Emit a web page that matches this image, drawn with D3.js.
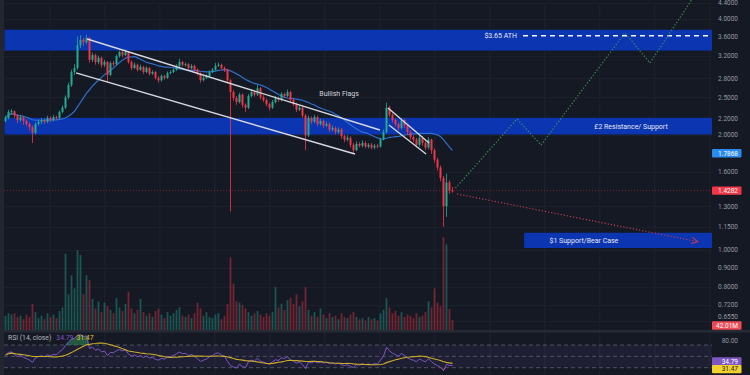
<!DOCTYPE html>
<html>
<head>
<meta charset="utf-8">
<script src="https://cdn.jsdelivr.net/npm/d3@7"></script>
<style>
  body { margin: 0; background: #151924; }
  svg { display: block; font-family: Roboto, "Noto Sans", sans-serif; }
</style>
</head>
<body>
<div id="chart"></div>
<script>
// daily candles, open = previous close
const firstOpen = 2.17
const closes = [
  2.21,2.29,2.30,2.24,2.18,2.22,2.17,2.13,2.09,2.02,
  2.13,2.16,2.18,2.16,2.21,2.18,2.22,2.21,2.29,2.35,
  2.50,2.69,2.91,2.98,3.42,3.53,3.48,3.57,3.13,3.22,
  3.09,3.17,3.04,3.09,2.86,3.07,3.05,3.20,3.28,3.22,
  3.28,3.09,2.98,3.04,2.95,3.00,2.91,2.98,2.88,2.91,
  2.81,2.77,2.84,2.81,2.89,2.91,2.95,3.02,3.09,3.04,
  3.05,2.98,3.02,2.95,2.88,2.77,2.81,2.84,2.91,2.95,
  3.02,3.04,2.98,2.95,2.77,2.58,2.49,2.43,2.54,2.39,
  2.35,2.52,2.58,2.54,2.64,2.50,2.46,2.40,2.35,2.43,
  2.49,2.46,2.55,2.52,2.58,2.46,2.40,2.32,2.35,2.24,
  1.99,2.21,2.16,2.22,2.13,2.17,2.11,2.13,2.06,2.08,
  2.03,2.06,1.98,1.94,1.96,1.88,1.82,1.89,1.87,1.90,
  1.86,1.88,1.85,1.87,1.86,1.94,2.03,2.35,2.25,2.18,
  2.13,2.08,2.18,2.11,2.03,1.97,1.94,1.88,1.96,1.90,
  1.85,1.94,1.82,1.72,1.64,1.54,1.30,1.50,1.43,1.4282
]
const highs = [
  2.24,2.32,2.33,2.31,2.26,2.25,2.23,2.19,2.15,2.11,
  2.15,2.19,2.21,2.20,2.24,2.23,2.25,2.24,2.31,2.38,
  2.53,2.73,2.95,3.05,3.60,3.63,3.58,3.64,3.59,3.27,
  3.25,3.21,3.19,3.13,3.11,3.10,3.11,3.23,3.31,3.32,
  3.33,3.30,3.12,3.08,3.06,3.04,3.02,3.01,3.00,2.94,
  2.93,2.84,2.87,2.86,2.92,2.94,2.98,3.05,3.15,3.11,
  3.08,3.07,3.05,3.04,2.97,2.90,2.84,2.87,2.94,2.98,
  3.07,3.08,3.06,3.01,2.97,2.79,2.61,2.52,2.57,2.56,
  2.41,2.55,2.62,2.60,2.69,2.66,2.53,2.48,2.42,2.46,
  2.52,2.51,2.58,2.57,2.62,2.60,2.48,2.42,2.38,2.37,
  2.26,2.24,2.23,2.25,2.24,2.20,2.19,2.16,2.15,2.11,
  2.10,2.09,2.08,2.00,1.99,1.98,1.90,1.92,1.91,1.93,
  1.92,1.90,1.90,1.89,1.89,1.96,2.06,2.42,2.38,2.27,
  2.20,2.15,2.21,2.20,2.13,2.05,1.99,1.96,1.99,1.98,
  1.92,1.97,1.95,1.84,1.74,1.66,1.56,1.58,1.52,1.46
]
const lows = [
  2.15,2.19,2.25,2.21,2.14,2.16,2.12,2.10,2.05,1.90,
  2.00,2.11,2.13,2.13,2.14,2.15,2.16,2.18,2.19,2.27,
  2.33,2.47,2.66,2.86,2.95,3.36,3.40,3.44,3.08,3.09,
  3.04,3.05,2.99,3.00,2.74,2.84,3.01,3.03,3.17,3.18,
  3.20,3.06,2.94,2.96,2.92,2.93,2.88,2.89,2.85,2.86,
  2.78,2.73,2.75,2.78,2.79,2.87,2.89,2.93,3.00,3.01,
  3.01,2.95,2.96,2.92,2.85,2.73,2.75,2.79,2.82,2.89,
  2.93,3.00,2.95,2.91,2.74,1.26,2.45,2.39,2.41,2.35,
  2.29,2.33,2.50,2.51,2.52,2.47,2.43,2.37,2.31,2.33,
  2.41,2.43,2.44,2.49,2.50,2.43,2.37,2.29,2.30,2.21,
  1.82,1.97,2.13,2.14,2.10,2.11,2.08,2.09,2.03,2.04,
  2.00,2.01,1.95,1.91,1.92,1.85,1.79,1.81,1.85,1.85,
  1.84,1.84,1.83,1.83,1.84,1.85,1.93,2.01,2.22,2.15,
  2.10,2.05,2.06,2.08,2.00,1.94,1.91,1.85,1.86,1.87,
  1.82,1.83,1.78,1.69,1.61,1.51,1.15,1.22,1.40,1.41
]
// volume in millions
const volumes = [
  60,70,65,70,55,60,45,65,55,110,
  75,50,60,45,70,55,65,50,80,95,
  320,150,230,175,335,315,150,230,210,130,
  90,120,75,115,100,85,70,135,95,80,
  110,160,90,70,85,130,75,60,70,55,
  80,90,65,50,75,60,70,85,95,60,
  55,65,50,70,115,90,60,75,55,50,
  65,70,45,60,110,305,195,120,115,105,
  90,75,60,70,80,65,55,70,60,75,
  180,95,110,85,125,135,110,150,100,120,
  180,85,60,75,55,90,65,50,70,55,
  60,45,70,55,50,65,75,55,45,50,
  40,55,45,50,40,70,85,135,95,70,
  80,60,75,55,65,60,50,70,55,60,
  75,120,95,175,115,100,390,360,88,42.01
]

const priceTicks = [4.4, 4.0, 3.6, 3.2, 2.8, 2.5, 2.2, 2.0, 1.6, 1.3, 1.15, 1.0, 0.9, 0.8, 0.72, 0.655]
const rsiTicks = [80]
const rsiLevels = [70, 50, 30]

// zones: [from bar, to bar (null = right edge), low, high]
const zones = [
  [0, null, 3.31, 3.75],
  [0, null, 2.0, 2.21],
  [173.2, null, 1.012, 1.109]
]
// trend lines [bar, price]
const channelLines = [
  [[27.2, 3.547], [124.8, 2.055]],
  [[23.5, 2.894], [116.5, 1.779]],
  [[127.5, 2.345], [141.2, 1.90]],
  [[127.8, 2.118], [140.2, 1.779]]
]
const bullPath = [[150, 1.45], [170.5, 2.195], [178.5, 1.878], [206.5, 3.68], [214.8, 3.072], [229, 4.52]]
const bearPath = [[150.5, 1.40], [230.8, 1.051]]
const athLine = { from: 172.5, price: 3.62 }
const notes = [
  { text: "$3.65 ATH", bar: 170.5, price: 3.62, anchor: "end", color: "#e6e8ee" },
  { text: "Bullish Flags", bar: 111.2, price: 2.56, anchor: "middle", color: "#d1d4dc" },
  { text: "£2 Resistance/ Support", bar: 208.5, price: 2.10, anchor: "middle", color: "#e6e8ee" },
  { text: "$1 Support/Bear Case", bar: 192.8, price: 1.058, anchor: "middle", color: "#e6e8ee" }
]
const maValue = 1.7868
const lastPrice = 1.4282
const lastVolume = "42.01M"
const rsiValue = 34.79
const rsiMaValue = 31.47

const W = 750, H = 375
const paneW = 712
const priceBottom = 330
const rsiTop = 333

const up = "#22ab94", down = "#f23645"

const svg = d3.select("#chart").append("svg")
    .attr("width", W)
    .attr("height", H)

const defs = svg.append("defs")
defs.append("clipPath").attr("id", "pricePane")
  .append("rect").attr("x", 0).attr("y", 0).attr("width", paneW).attr("height", priceBottom)
defs.append("clipPath").attr("id", "rsiPane")
  .append("rect").attr("x", 0).attr("y", rsiTop).attr("width", paneW).attr("height", H - rsiTop)
defs.append("marker")
    .attr("id", "arrow").attr("viewBox", "0 0 8 8")
    .attr("refX", 7).attr("refY", 4)
    .attr("markerWidth", 7).attr("markerHeight", 7)
    .attr("orient", "auto")
  .append("path")
    .attr("d", "M1,1 L7,4 L1,7")
    .attr("fill", "none").attr("stroke", "#c23a52").attr("stroke-width", 1)

svg.append("rect").attr("width", W).attr("height", H).attr("fill", "#151924")
svg.append("rect").attr("width", 4).attr("height", H).attr("fill", "#23262f")

// scales
const x = d3.scaleLinear().domain([0, closes.length - 1]).range([5.5, 452.5])
const y = d3.scaleLog().domain([1, 4]).range([250, 19])
const yVol = d3.scaleLinear().domain([0, 420]).range([priceBottom, priceBottom - 100])
const yRsi = d3.scaleLinear().domain([0, 100]).range([384.7, 328])

const barRight = x.invert(paneW)

// grid
const gridBars = d3.range(14.8, barRight, 18.33)
svg.append("g")
  .selectAll("line")
  .data(gridBars)
  .join("line")
    .attr("x1", d => x(d)).attr("x2", d => x(d))
    .attr("y1", 4).attr("y2", H)
    .attr("stroke", "#1f2330").attr("stroke-width", 1)

svg.append("g")
  .selectAll("line")
  .data(priceTicks)
  .join("line")
    .attr("x1", 4).attr("x2", paneW)
    .attr("y1", d => Math.round(y(d)) + 0.5).attr("y2", d => Math.round(y(d)) + 0.5)
    .attr("stroke", "#1c202b").attr("stroke-width", 1)

const price = svg.append("g").attr("clip-path", "url(#pricePane)")

// zones
price.append("g")
  .selectAll("rect")
  .data(zones)
  .join("rect")
    .attr("x", d => Math.max(4, x(d[0]) - 1))
    .attr("width", d => (d[1] == null ? paneW : x(d[1])) - Math.max(4, x(d[0]) - 1))
    .attr("y", d => y(d[3]))
    .attr("height", d => y(d[2]) - y(d[3]))
    .attr("fill", "#0c35b2")

// candles data
const candles = closes.map((c, i) => ({
  i,
  o: i ? closes[i - 1] : firstOpen,
  c,
  h: highs[i],
  l: lows[i],
  v: volumes[i]
}))

// volume overlay
price.append("g")
  .selectAll("rect")
  .data(candles)
  .join("rect")
    .attr("x", d => x(d.i) - 0.9)
    .attr("width", 1.8)
    .attr("y", d => yVol(d.v))
    .attr("height", d => priceBottom - yVol(d.v))
    .attr("fill", d => d.c >= d.o ? up : down)
    .attr("opacity", 0.42)

// moving average 20
const ma = closes.map((_, i) => d3.mean(closes.slice(Math.max(0, i - 19), i + 1)))
price.append("path")
  .datum(ma)
  .attr("fill", "none")
  .attr("stroke", "#2e6fcf")
  .attr("stroke-width", 1.2)
  .attr("d", d3.line().x((d, i) => x(i)).y(d => y(d)))

// candles
const cg = price.append("g")
cg.selectAll("line")
  .data(candles)
  .join("line")
    .attr("x1", d => x(d.i)).attr("x2", d => x(d.i))
    .attr("y1", d => y(d.h)).attr("y2", d => y(d.l))
    .attr("stroke", d => d.c >= d.o ? up : down)
    .attr("stroke-width", 0.8)
cg.selectAll("rect")
  .data(candles)
  .join("rect")
    .attr("x", d => x(d.i) - 1)
    .attr("width", 2)
    .attr("y", d => y(Math.max(d.o, d.c)))
    .attr("height", d => Math.max(1, Math.abs(y(d.o) - y(d.c))))
    .attr("fill", d => d.c >= d.o ? up : down)

// channels
price.append("g")
  .selectAll("line")
  .data(channelLines)
  .join("line")
    .attr("x1", d => x(d[0][0])).attr("y1", d => y(d[0][1]))
    .attr("x2", d => x(d[1][0])).attr("y2", d => y(d[1][1]))
    .attr("stroke", "#d6d8de").attr("stroke-width", 1.4)

// current price line
price.append("line")
  .attr("x1", 4).attr("x2", paneW)
  .attr("y1", y(lastPrice)).attr("y2", y(lastPrice))
  .attr("stroke", down).attr("stroke-opacity", 0.45)
  .attr("stroke-dasharray", "1,2")

// ATH line
price.append("line")
  .attr("x1", x(athLine.from)).attr("x2", paneW)
  .attr("y1", y(athLine.price)).attr("y2", y(athLine.price))
  .attr("stroke", "#f2f3f5").attr("stroke-width", 1.5)
  .attr("stroke-dasharray", "5,4")

// projections
const pline = d3.line().x(d => x(d[0])).y(d => y(d[1]))
price.append("path")
  .datum(bullPath)
  .attr("d", pline)
  .attr("fill", "none")
  .attr("stroke", "#3a9a55")
  .attr("stroke-width", 1.2)
  .attr("stroke-dasharray", "1.2,2")
price.append("path")
  .datum(bearPath)
  .attr("d", pline)
  .attr("fill", "none")
  .attr("stroke", "#c23a52")
  .attr("stroke-width", 1.2)
  .attr("stroke-dasharray", "1.2,2")
  .attr("marker-end", "url(#arrow)")

// notes
price.append("g")
  .selectAll("text")
  .data(notes)
  .join("text")
    .attr("x", d => x(d.bar))
    .attr("y", d => y(d.price))
    .attr("dy", "0.35em")
    .attr("text-anchor", d => d.anchor)
    .attr("fill", d => d.color)
    .style("font-size", "7px")
    .text(d => d.text)

// pane separator
svg.append("rect")
  .attr("x", 4).attr("y", priceBottom).attr("width", W).attr("height", 2.5)
  .attr("fill", "#262a35")

// RSI pane
const rsiG = svg.append("g").attr("clip-path", "url(#rsiPane)")

function rsiCalc(vals, n) {
  // warm-up seed: equal average gain and loss
  let ag = 0.03, al = 0.03, prev = firstOpen
  return vals.map(v => {
    const ch = v - prev
    prev = v
    ag = (ag * (n - 1) + Math.max(ch, 0)) / n
    al = (al * (n - 1) + Math.max(-ch, 0)) / n
    return 100 - 100 / (1 + ag / al)
  })
}
const rsi = rsiCalc(closes, 14)
const rsiMa = rsi.map((_, i) => d3.mean(rsi.slice(Math.max(0, i - 13), i + 1)))

rsiG.append("rect")
  .attr("x", 4).attr("width", paneW - 4)
  .attr("y", yRsi(70)).attr("height", yRsi(30) - yRsi(70))
  .attr("fill", "#7e57c2").attr("opacity", 0.1)

rsiG.append("g")
  .selectAll("line")
  .data(rsiLevels)
  .join("line")
    .attr("x1", 4).attr("x2", paneW)
    .attr("y1", d => yRsi(d)).attr("y2", d => yRsi(d))
    .attr("stroke", "#787b86").attr("stroke-opacity", 0.55)
    .attr("stroke-dasharray", "4,3")

rsiG.append("path")
  .datum(rsi)
  .attr("fill", "#2e8b57").attr("opacity", 0.55)
  .attr("d", d3.area().x((d, i) => x(i)).y0(yRsi(70)).y1(d => yRsi(Math.max(d, 70))))
rsiG.append("path")
  .datum(rsi)
  .attr("fill", "#c2304a").attr("opacity", 0.45)
  .attr("d", d3.area().x((d, i) => x(i)).y0(yRsi(30)).y1(d => yRsi(Math.min(d, 30))))

rsiG.append("path")
  .datum(rsi)
  .attr("fill", "none").attr("stroke", "#7e57c2").attr("stroke-width", 1)
  .attr("d", d3.line().x((d, i) => x(i)).y(d => yRsi(d)))
rsiG.append("path")
  .datum(rsiMa)
  .attr("fill", "none").attr("stroke", "#c9ab2a").attr("stroke-width", 1.1)
  .attr("d", d3.line().x((d, i) => x(i)).y(d => yRsi(d)))

const rsiLabel = svg.append("text")
  .attr("x", 8).attr("y", 340)
  .style("font-size", "6.8px")
rsiLabel.append("tspan").attr("fill", "#b2b5be").text("RSI (14, close)")
rsiLabel.append("tspan").attr("dx", 5).attr("fill", "#7e57c2").text(rsiValue.toFixed(2))
rsiLabel.append("tspan").attr("dx", 3).attr("fill", "#e0c230").text(rsiMaValue.toFixed(2))

// right axis
const axisX = 738
svg.append("g")
  .selectAll("text")
  .data(priceTicks)
  .join("text")
    .attr("x", axisX)
    .attr("y", d => Math.min(y(d), 317))
    .attr("dy", "0.35em")
    .attr("text-anchor", "end")
    .attr("fill", "#9598a1")
    .style("font-size", "6.5px")
    .text(d => d3.format(".4f")(d))

svg.append("g")
  .selectAll("text")
  .data(rsiTicks)
  .join("text")
    .attr("x", axisX)
    .attr("y", d => yRsi(d) + 1.5)
    .attr("dy", "0.35em")
    .attr("text-anchor", "end")
    .attr("fill", "#9598a1")
    .style("font-size", "6.5px")
    .text(d => d3.format(".2f")(d))

// value badges
const badges = [
  { text: maValue.toFixed(4), y: y(maValue), fill: "#2a8bef", color: "#ffffff" },
  { text: lastPrice.toFixed(4), y: y(lastPrice), fill: "#f23645", color: "#ffffff" },
  { text: lastVolume, y: yVol(42.01) + 5.5, fill: "#f04a55", color: "#ffffff" },
  { text: rsiValue.toFixed(2), y: yRsi(rsiValue) - 3.5, fill: "#7e57c2", color: "#ffffff" },
  { text: rsiMaValue.toFixed(2), y: yRsi(rsiMaValue) + 2.3, fill: "#f2d22b", color: "#1a1d26" }
]
const bg = svg.append("g")
  .selectAll("g")
  .data(badges)
  .join("g")
    .attr("transform", d => `translate(712,${d.y})`)
bg.append("rect")
  .attr("x", 0).attr("y", -4.2).attr("width", 29.5).attr("height", 8.4)
  .attr("rx", 1)
  .attr("fill", d => d.fill)
bg.append("text")
  .attr("x", axisX - 712).attr("dy", "0.35em")
  .attr("text-anchor", "end")
  .attr("fill", d => d.color)
  .style("font-size", "6.5px")
  .text(d => d.text)
</script>
</body>
</html>
